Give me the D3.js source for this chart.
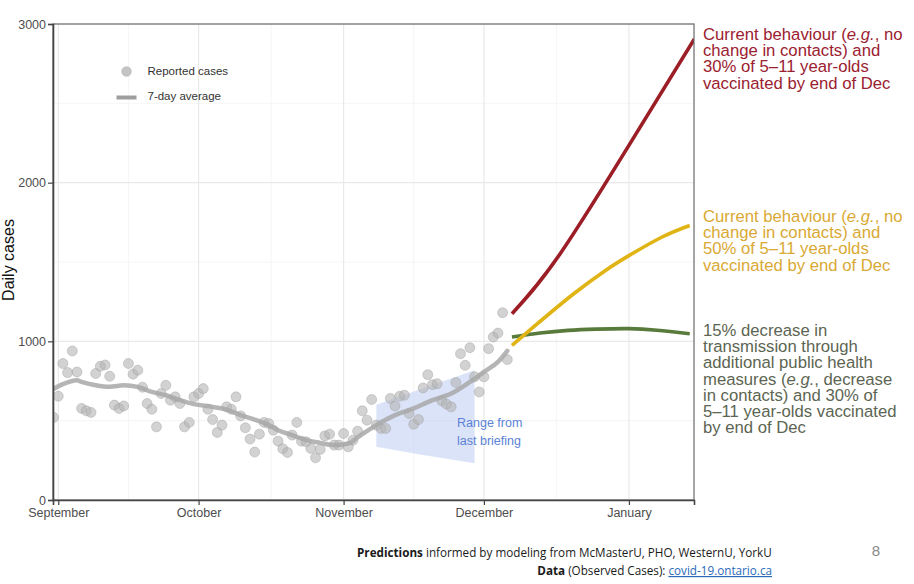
<!DOCTYPE html>
<html>
<head>
<meta charset="utf-8">
<script src="https://cdn.jsdelivr.net/npm/d3@7"></script>
<style>
body{margin:0;background:#fff;}
svg{display:block;}
</style>
</head>
<body>
<div id="chart"></div>
<script>
// observed daily cases, one per day from firstDay
var firstDay = "2021-08-31";
var reported = [520,654,860,803,939,807,577,562,552,797,843,851,780,598,577,593,860,793,818,711,
  608,572,461,671,723,629,650,608,461,489,650,671,702,572,507,426,472,587,572,650,
  530,455,384,302,415,489,482,440,371,323,300,409,489,371,367,325,266,319,404,415,
  346,346,419,335,377,434,562,503,633,472,451,451,640,593,654,660,545,478,507,706,
  790,727,733,625,604,587,740,922,849,960,776,681,776,954,1027,1052,1180,885];

// 7-day average
var avgDates = ["2021-08-31","2021-09-02","2021-09-05","2021-09-06","2021-09-09","2021-09-12","2021-09-15",
  "2021-09-18","2021-09-21","2021-09-24","2021-09-27","2021-09-30","2021-10-04","2021-10-07","2021-10-10",
  "2021-10-13","2021-10-16","2021-10-18","2021-10-21","2021-10-24","2021-10-27","2021-10-30","2021-11-02",
  "2021-11-04","2021-11-05","2021-11-08","2021-11-12","2021-11-16","2021-11-20","2021-11-24","2021-11-28",
  "2021-12-01","2021-12-04","2021-12-06"];
var avgValues = [700,730,755,744,723,713,723,713,681,660,629,604,587,570,535,507,472,440,409,377,360,346,356,
  395,415,472,535,577,629,671,744,807,870,940];

// scenario projections
var redDates = ["2021-12-07","2021-12-17","2022-01-01","2022-01-15"];
var redValues = [1174,1539,2235,2906];
var yellowDates = ["2021-12-07","2021-12-12","2021-12-20","2021-12-27","2022-01-01","2022-01-08","2022-01-14"];
var yellowValues = [975,1100,1295,1447,1540,1656,1730];
var greenDates = ["2021-12-07","2021-12-13","2021-12-19","2021-12-25","2022-01-01","2022-01-07","2022-01-14"];
var greenValues = [1027,1052,1069,1077,1080,1070,1048];

// shaded range from last briefing
var rangeDates = ["2021-11-08","2021-11-18","2021-11-29"];
var rangeHigh = [600,705,818];
var rangeLow = [335,283,231];

var monthTicks = ["2021-09-01","2021-10-01","2021-11-01","2021-12-01","2022-01-01"];
var monthLabels = ["September","October","November","December","January"];
var minorXTicks = ["2021-09-16 00","2021-10-16 12","2021-11-16 00","2021-12-16 12"];
var yTicks = [0,1000,2000,3000];
var yMinor = [500,1500,2500];

var redText = ["Current behaviour (e.g., no","change in contacts) and","30% of 5\u201311 year-olds","vaccinated by end of Dec"];
var yellowText = ["Current behaviour (e.g., no","change in contacts) and","50% of 5\u201311 year-olds","vaccinated by end of Dec"];
var greenText = ["15% decrease in","transmission through","additional public health","measures (e.g., decrease","in contacts) and 30% of","5\u201311 year-olds vaccinated","by end of Dec"];

var W = 914, H = 584;
var mLeft = 53, mRight = 694, mTop = 24, mBottom = 500;
var font = "'Liberation Sans', Arial, Helvetica, sans-serif";

var parse = d3.timeParse("%Y-%m-%d");
var parseH = d3.timeParse("%Y-%m-%d %H");

var svg = d3.select("#chart").append("svg").attr("width", W).attr("height", H)
  .style("font-family", font);

var x = d3.scaleTime()
  .domain([new Date(2021,7,30,21), new Date(2022,0,14,22)])
  .range([mLeft, mRight]);
var y = d3.scaleLinear().domain([0,3000]).range([mBottom, mTop]);

svg.append("clipPath").attr("id","panel").append("rect")
  .attr("x", mLeft).attr("y", mTop).attr("width", mRight-mLeft).attr("height", mBottom-mTop);

// grid
var grid = svg.append("g");
grid.selectAll(".ymin").data(yMinor).enter().append("line")
  .attr("x1", mLeft).attr("x2", mRight).attr("y1", d=>y(d)).attr("y2", d=>y(d))
  .attr("stroke","#f3f3f3").attr("stroke-width",0.8);
grid.selectAll(".xmin").data(minorXTicks).enter().append("line")
  .attr("x1", d=>x(parseH(d))).attr("x2", d=>x(parseH(d))).attr("y1", mTop).attr("y2", mBottom)
  .attr("stroke","#f3f3f3").attr("stroke-width",0.8);
grid.selectAll(".ymaj").data(yTicks).enter().append("line")
  .attr("x1", mLeft).attr("x2", mRight).attr("y1", d=>y(d)).attr("y2", d=>y(d))
  .attr("stroke","#e9e9e9").attr("stroke-width",1.2);
grid.selectAll(".xmaj").data(monthTicks).enter().append("line")
  .attr("x1", d=>x(parse(d))).attr("x2", d=>x(parse(d))).attr("y1", mTop).attr("y2", mBottom)
  .attr("stroke","#e9e9e9").attr("stroke-width",1.2);

var plot = svg.append("g").attr("clip-path","url(#panel)");

// range from last briefing
var rangeData = rangeDates.map(function(d,i){ return {date: parse(d), hi: rangeHigh[i], lo: rangeLow[i]}; });
plot.append("path").datum(rangeData)
  .attr("d", d3.area().x(d=>x(d.date)).y0(d=>y(d.lo)).y1(d=>y(d.hi)))
  .attr("fill","#c3d1f4").attr("opacity",0.6);

// reported cases
var day0 = parse(firstDay);
plot.selectAll(".dot").data(reported).enter().append("circle")
  .attr("cx", (d,i)=>x(d3.timeDay.offset(day0, i)))
  .attr("cy", d=>y(d))
  .attr("r", 5)
  .attr("fill","#b4b4b4").attr("fill-opacity",0.6)
  .attr("stroke","#9a9a9a").attr("stroke-opacity",0.5).attr("stroke-width",0.8);

// 7-day average
var avgData = avgDates.map((d,i)=>({date: parse(d), v: avgValues[i]}));
plot.append("path").datum(avgData)
  .attr("d", d3.line().x(d=>x(d.date)).y(d=>y(d.v)).curve(d3.curveMonotoneX))
  .attr("fill","none").attr("stroke","#a8a8a8").attr("stroke-width",4.5)
  .attr("stroke-opacity",0.85).attr("stroke-linecap","round");

// projections
var scenarios = [
  {dates: greenDates, values: greenValues, color: "#587a3a"},
  {dates: yellowDates, values: yellowValues, color: "#e0b414"},
  {dates: redDates, values: redValues, color: "#9b1d25"}
];
var projLine = d3.line().x(d=>x(d.date)).y(d=>y(d.v)).curve(d3.curveNatural);
scenarios.forEach(function(s){
  var pts = s.dates.map((d,i)=>({date: parse(d), v: s.values[i]}));
  plot.append("path").datum(pts).attr("d", projLine)
    .attr("fill","none").attr("stroke", s.color).attr("stroke-width",3.6);
});

// panel border
svg.append("rect").attr("x", mLeft).attr("y", mTop).attr("width", mRight-mLeft).attr("height", mBottom-mTop)
  .attr("fill","none").attr("stroke","#6a6a6a").attr("stroke-width",1.2);

// axes
var yAxis = d3.axisLeft(y).tickValues(yTicks).tickSize(5).tickPadding(2).tickFormat(d3.format("d"));
var gy = svg.append("g").attr("transform","translate("+mLeft+",0)").call(yAxis);
var xAxis = d3.axisBottom(x).tickValues(monthTicks.map(parse)).tickSize(5).tickPadding(3)
  .tickFormat((d,i)=>monthLabels[i]);
var gx = svg.append("g").attr("transform","translate(0,"+mBottom+")").call(xAxis);
[gx, gy].forEach(function(g){
  g.select(".domain").attr("stroke","#444").attr("stroke-width",1.6);
  g.selectAll(".tick line").attr("stroke","#444").attr("stroke-width",1.2);
  g.selectAll(".tick text").attr("fill","#4d4d4d").style("font-size","12.5px").style("font-family", font);
});

svg.append("text").attr("transform","translate(14,260) rotate(-90)")
  .attr("text-anchor","middle").style("font-size","16px").attr("fill","#111").text("Daily cases");

// legend
svg.append("circle").attr("cx",126.5).attr("cy",71.5).attr("r",4.8)
  .attr("fill","#c4c4c4").attr("stroke","#b0b0b0").attr("stroke-width",0.6);
svg.append("line").attr("x1",116.5).attr("x2",136.5).attr("y1",97.5).attr("y2",97.5)
  .attr("stroke","#9e9e9e").attr("stroke-width",4);
svg.append("text").attr("x",147.5).attr("y",74.5).style("font-size","11.5px").attr("fill","#333").text("Reported cases");
svg.append("text").attr("x",147.5).attr("y",100).style("font-size","11.5px").attr("fill","#333").text("7-day average");

// range note
var rn = svg.append("text").style("font-size","12.5px").attr("fill","#5b82d6");
rn.append("tspan").attr("x",457).attr("y",426.5).text("Range from");
rn.append("tspan").attr("x",457).attr("y",444.5).text("last briefing");

// scenario notes
function note(lines, yStart, color){
  var t = svg.append("text").style("font-size","16.7px").attr("fill", color);
  lines.forEach(function(line, i){
    var parts = line.split("e.g.");
    t.append("tspan").attr("x",703).attr("y", yStart + i*16.2).text(parts[0]);
    if(parts.length > 1){
      t.append("tspan").style("font-style","italic").text("e.g.");
      t.append("tspan").text(parts[1]);
    }
  });
}
note(redText, 40, "#9b2130");
note(yellowText, 222, "#d9a934");
note(greenText, 336, "#5c6552");

// footer
var foot = "'Open Sans', 'Noto Sans', sans-serif";
var f1 = svg.append("text").attr("x",357).attr("y",557).style("font-family",foot).style("font-size","11.7px").attr("fill","#1a1a1a");
f1.append("tspan").style("font-weight","bold").text("Predictions");
f1.append("tspan").text(" informed by modeling from McMasterU, PHO, WesternU, YorkU");
var f2 = svg.append("text").attr("x",772).attr("y",575).attr("text-anchor","end").style("font-family",foot).style("font-size","11.7px").attr("fill","#1a1a1a");
f2.append("tspan").style("font-weight","bold").text("Data");
f2.append("tspan").text(" (Observed Cases): ");
f2.append("tspan").attr("fill","#2a6ab8").style("text-decoration","underline").text("covid-19.ontario.ca");
svg.append("text").attr("x",876).attr("y",556).attr("text-anchor","middle").style("font-size","15px").attr("fill","#8a8a8a").text("8");
</script>
</body>
</html>
